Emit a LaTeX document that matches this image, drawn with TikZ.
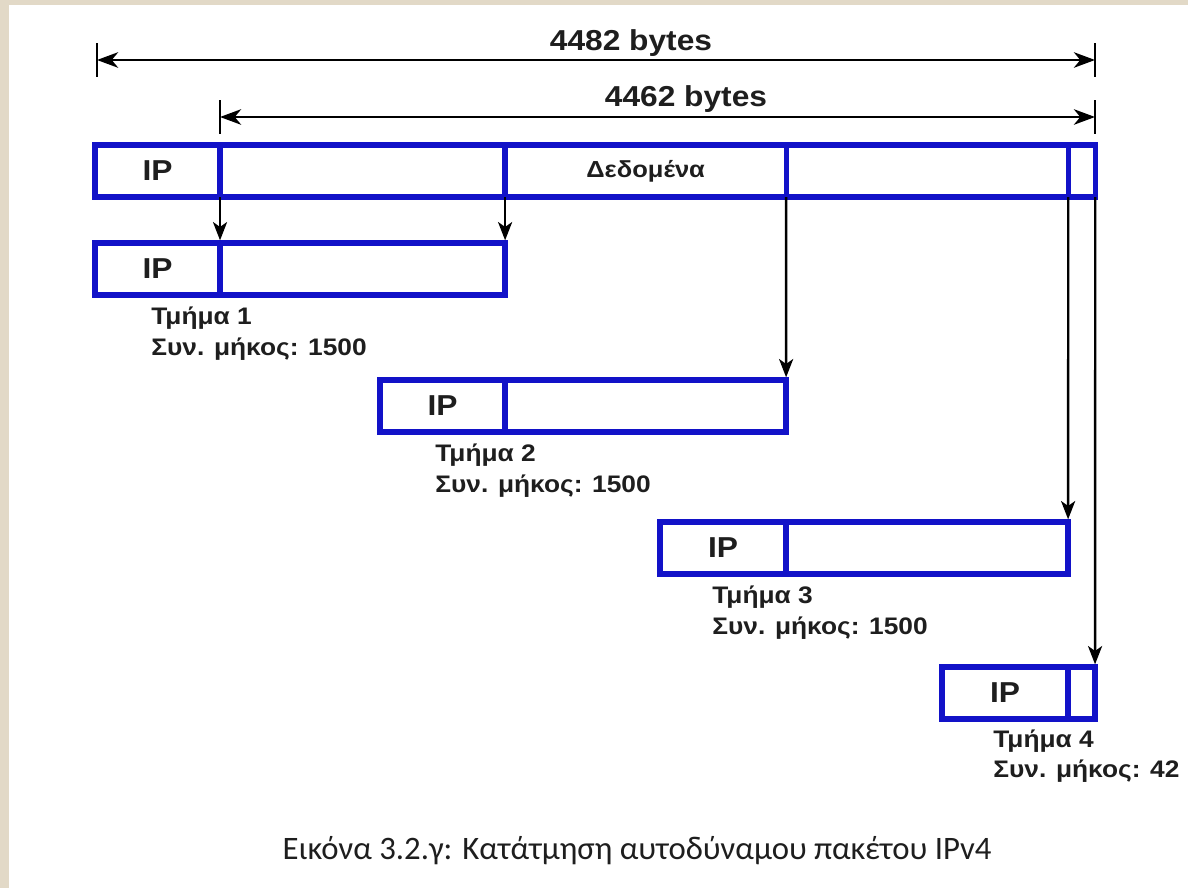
\documentclass[tikz,border=0pt]{standalone}
\usepackage{fontspec}
\setmainfont{Liberation Sans}
\newfontfamily\lblfont[FakeStretch=1.1]{Liberation Sans}
\newfontfamily\capfont{Carlito}
\usetikzlibrary{positioning, arrows.meta}
\definecolor{PktBlue}{RGB}{18,18,200}
\definecolor{PaperBeige}{RGB}{226,217,199}
\definecolor{InkGray}{RGB}{30,30,30}
\tikzset{
  cell/.style={rectangle, draw=PktBlue, line width=3.8pt, inner sep=0pt, outer sep=0pt,
    minimum height=1.3cm, text=InkGray, font=\lblfont\bfseries\fontsize{20.5}{22}\selectfont},
  ipcell/.style={cell, minimum width=3.125cm},
  datacell/.style={cell, font=\lblfont\bfseries\fontsize{16.5}{18}\selectfont},
  drop/.style={-{Stealth[length=13pt, width=10pt, inset=3.5pt]}, line width=1.7pt, shorten >=1.9pt},
  dimline/.style={{Stealth[length=15pt, width=11pt, inset=4.5pt]}-{Stealth[length=15pt, width=11pt, inset=4.5pt]}, line width=1.9pt},
  dimtick/.style={line width=1.9pt},
  dimlbl/.style={text=InkGray, font=\lblfont\bfseries\fontsize{20.5}{22}\selectfont},
  seglbl/.style={inner sep=0pt, align=left, text=InkGray,
    font=\lblfont\bfseries\fontsize{17}{21.5}\selectfont},
}
\begin{document}
\begin{tikzpicture}[x=0.025cm, y=-0.025cm]
%% page: paper edge on the left and top, white sheet on top of it
\fill[PaperBeige] (0,0) rectangle (1188,888);
\fill[white] (9,5) rectangle (1188,888);
\useasboundingbox (0,0) rectangle (1188,888);

%% ---- original datagram ----
\node[ipcell, anchor=north west] (mIP) at (95,145) {IP};
\node[datacell, minimum width=7.125cm, right=0pt of mIP] (mA) {};
\node[datacell, minimum width=7.025cm, right=0pt of mA] (mB) {Δεδομένα};
\node[datacell, minimum width=7.05cm, right=0pt of mB] (mC) {};
\node[datacell, minimum width=0.675cm, right=0pt of mC] (mD) {};

%% ---- lengths ----
\coordinate (d1l) at (97,60);
\coordinate (d1r) at (1095,60);
\coordinate (d2l) at (220,117);
\coordinate (d2r) at (1095,117);
\foreach \c in {d1l,d1r,d2l,d2r}
  \draw[dimtick] (\c) ++(0,-17) -- ++(0,34);
\draw[dimline] (d1l) -- (d1r);
\draw[dimline] (d2l) -- (d2r);
\node[dimlbl] (len1) at (631,43) {4482 bytes};
\node[dimlbl] (len2) at (686,99) {4462 bytes};

%% ---- fragments ----
\node[ipcell, anchor=north west] (f1IP) at (95,243) {IP};
\node[datacell, minimum width=7.125cm, right=0pt of f1IP] (f1D) {};
\node[ipcell, anchor=north west] (f2IP) at (380,380) {IP};
\node[datacell, minimum width=7.025cm, right=0pt of f2IP] (f2D) {};
\node[ipcell, minimum width=3.15cm, anchor=north west] (f3IP) at (660,522) {IP};
\node[datacell, minimum width=7.05cm, right=0pt of f3IP] (f3D) {};
\node[ipcell, minimum width=3.15cm, anchor=north west] (f4IP) at (942,667) {IP};
\node[datacell, minimum width=0.675cm, right=0pt of f4IP] (f4D) {};

\node[seglbl, below right=0.3cm and 1.4cm of f1IP.south west] (t1) {Τμήμα 1\\Συν. μήκος: 1500};
\node[seglbl, below right=0.3cm and 1.375cm of f2IP.south west] (t2) {Τμήμα 2\\Συν. μήκος: 1500};
\node[seglbl, below right=0.3cm and 1.3cm of f3IP.south west] (t3) {Τμήμα 3\\Συν. μήκος: 1500};
\node[seglbl, below right=0.26cm and 1.275cm of f4IP.south west] (t4) {Τμήμα 4\\Συν. μήκος: 42};

%% ---- where each piece goes ----
\draw[drop] (mA.south west) -- (f1D.north west);
\draw[drop] (mA.south east) -- (f1D.north east);
\draw[drop] (mB.south east) -- (f2D.north east);
\draw[drop] (mC.south east) -- (f3D.north east);
\draw[drop] (mD.south east) -- (f4D.north east);

%% ---- caption ----
\node[text=InkGray, font=\capfont\fontsize{23.3}{27}\selectfont] (cap) at (637,851)
  {Εικόνα 3.2.γ: Κατάτμηση αυτοδύναμου πακέτου IPv4};
\end{tikzpicture}
\end{document}
